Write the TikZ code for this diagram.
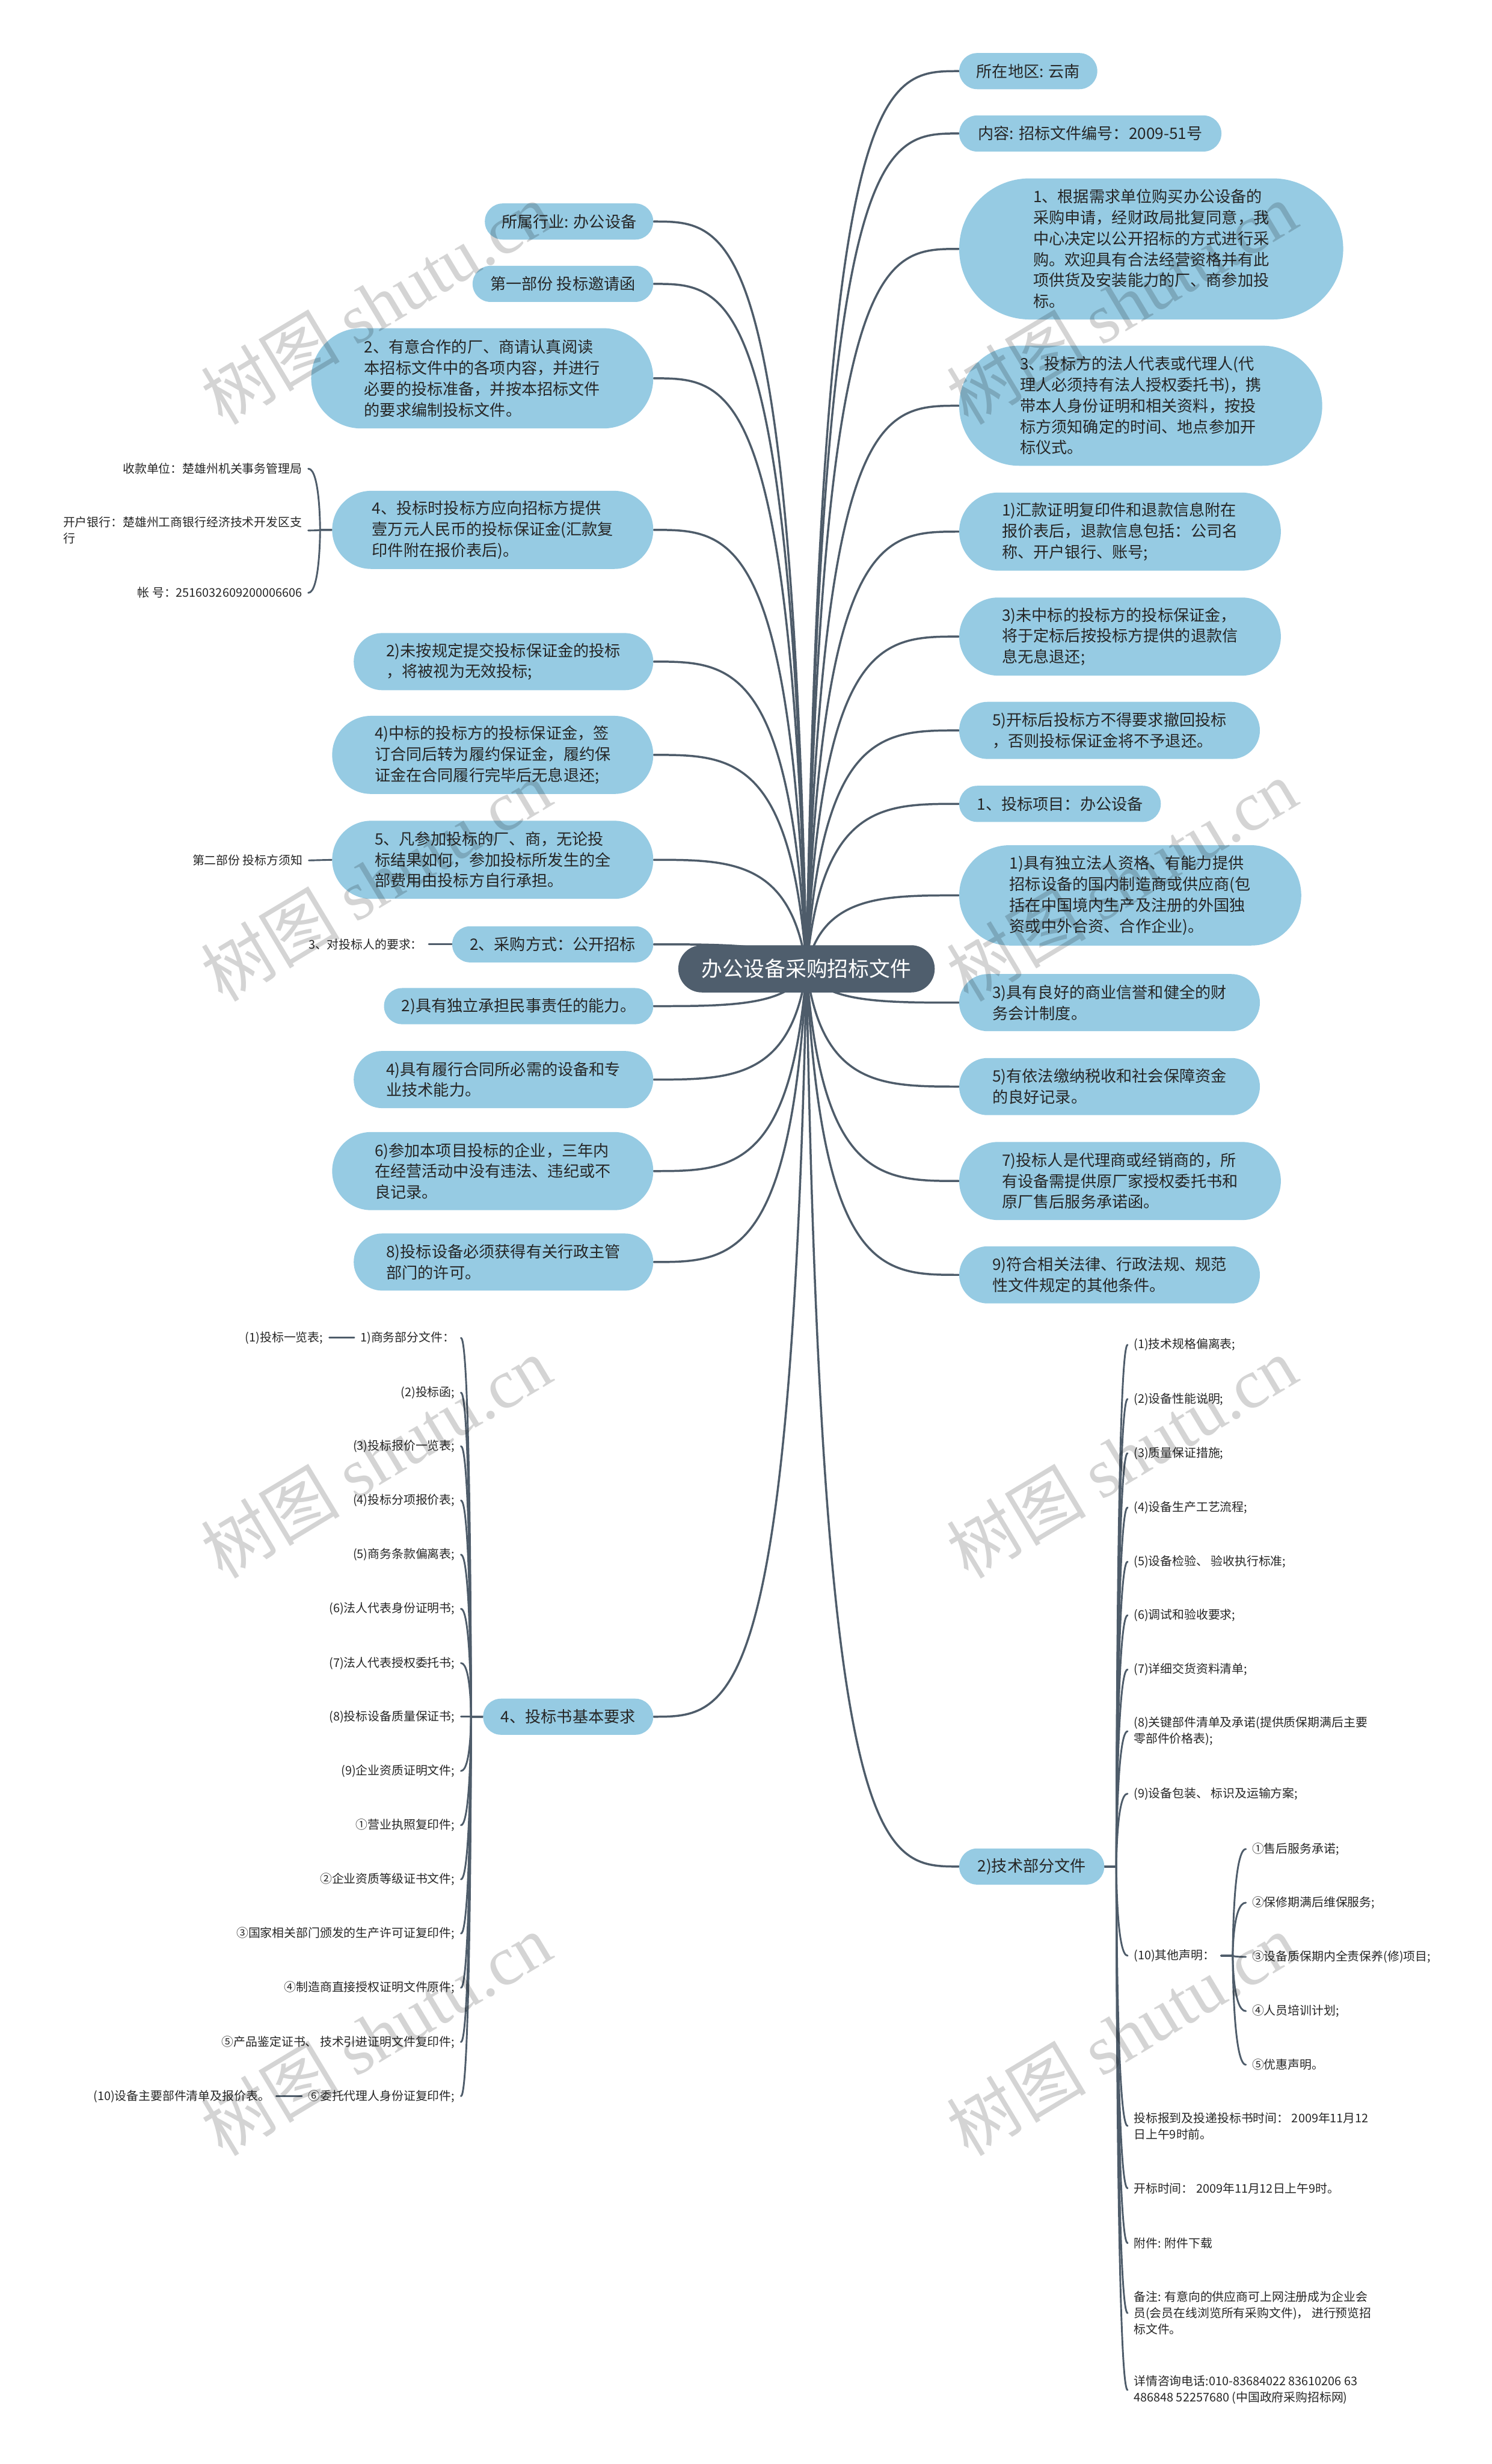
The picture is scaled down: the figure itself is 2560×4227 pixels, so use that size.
\documentclass[tikz,border=0pt]{standalone}
\usepackage{fontspec}
\setmainfont{Noto Sans CJK SC}
\newfontfamily\wmlatin{Liberation Serif}
\usetikzlibrary{calc}
\pgfdeclarelayer{paper}
\pgfdeclarelayer{bg}
\pgfsetlayers{paper,bg,main}
\definecolor{boxblue}{RGB}{150,203,227}
\definecolor{hubc}{RGB}{79,94,109}
\definecolor{linec}{RGB}{78,92,106}
\definecolor{txt}{RGB}{38,38,38}
\newcommand\mconn[2]{\draw[mainline] let \p1=(C.center), \p2=(#1.#2) in (\p1) .. controls ({\x1+0.1*(\x2-\x1)},{\y2}) and ({\x1+0.5*(\x2-\x1)},{\y2}) .. (\p2);}
\newcommand\brL[2]{\draw[subline] let \p1=(#1.east), \p2=(#2.west) in (\p1) .. controls ({\x2-2mm},{\y1}) and ({\x2-2mm},{\y2}) .. ({\x2-2mm},{\y2}) -- (\p2);}
\newcommand\brR[2]{\draw[subline] let \p1=(#1.west), \p2=(#2.east) in (\p1) .. controls ({\x2+2mm},{\y1}) and ({\x2+2mm},{\y2}) .. ({\x2+2mm},{\y2}) -- (\p2);}
\begin{document}
\begin{tikzpicture}[x=0.1mm,y=-0.1mm,
  bluebox/.style={fill=boxblue, text=txt, align=left, inner sep=0pt, font=\fontsize{7.68pt}{10.2pt}\selectfont},
  bA/.style={bluebox, minimum height=6.2mm, rounded corners=3.09mm},
  bB/.style={bluebox, minimum height=9.8mm, rounded corners=4.89mm},
  bC/.style={bluebox, minimum height=13.4mm, rounded corners=6.69mm},
  bD/.style={bluebox, minimum height=17.2mm, rounded corners=8.59mm},
  bE/.style={bluebox, minimum height=20.6mm, rounded corners=10.29mm},
  bF/.style={bluebox, minimum height=24.2mm, rounded corners=12.09mm},
  hubbox/.style={fill=hubc, text=white, inner sep=0pt, minimum width=44mm, minimum height=8.1mm, rounded corners=4.04mm, font=\fontsize{10.24pt}{12pt}\selectfont},
  smalltxt/.style={font=\fontsize{5.83pt}{7.97pt}\selectfont, text=txt, inner xsep=1mm, inner ysep=0.3mm, align=left},
  mainline/.style={draw=linec, line width=0.36mm, line cap=round},
  subline/.style={draw=linec, line width=0.3mm, line cap=round},
  wm/.style={rotate=31, font=\fontsize{34pt}{34pt}\selectfont, text=black, opacity=0.17}]
\useasboundingbox (0,0) rectangle (2560,4227);
\begin{pgfonlayer}{paper}
\fill[white] (0,0) rectangle (2560,4227);
\end{pgfonlayer}

% hub
\node[hubbox] (C) at (1384,1662) {办公设备采购招标文件};

% left main nodes
\node[bA,minimum width=28.9mm] (L1) at (976.5,380) {所属行业: 办公设备};
\node[bA,minimum width=31.0mm] (L2) at (966,487) {第一部份 投标邀请函};
\node[bD,minimum width=58.7mm] (L3) at (827.5,649) {2、有意合作的厂、商请认真阅读\\本招标文件中的各项内容，并进行\\必要的投标准备，并按本招标文件\\的要求编制投标文件。};
\node[bC,minimum width=55.1mm] (L4) at (845.5,909) {4、投标时投标方应向招标方提供\\壹万元人民币的投标保证金(汇款复\\印件附在报价表后)。};
\node[bB,minimum width=51.4mm] (L5) at (864,1135) {2)未按规定提交投标保证金的投标\\，将被视为无效投标;};
\node[bC,minimum width=55.1mm] (L6) at (845.5,1295) {4)中标的投标方的投标保证金，签\\订合同后转为履约保证金，履约保\\证金在合同履行完毕后无息退还;};
\node[bC,minimum width=55.1mm] (L7) at (845.5,1475) {5、凡参加投标的厂、商，无论投\\标结果如何，参加投标所发生的全\\部费用由投标方自行承担。};
\node[bA,minimum width=34.5mm] (L8) at (948.5,1620) {2、采购方式：公开招标};
\node[bA,minimum width=46.2mm] (L9) at (890,1726) {2)具有独立承担民事责任的能力。};
\node[bB,minimum width=51.4mm] (L10) at (864,1852) {4)具有履行合同所必需的设备和专\\业技术能力。};
\node[bC,minimum width=55.1mm] (L11) at (845.5,2009) {6)参加本项目投标的企业，三年内\\在经营活动中没有违法、违纪或不\\良记录。};
\node[bB,minimum width=51.4mm] (L12) at (864,2165) {8)投标设备必须获得有关行政主管\\部门的许可。};
\node[bA,minimum width=29.2mm] (L13) at (975,2945) {4、投标书基本要求};

% right main nodes
\node[bA,minimum width=23.7mm] (R1) at (1764.5,122) {所在地区: 云南};
\node[bA,minimum width=45.0mm] (R2) at (1871,229) {内容: 招标文件编号：2009-51号};
\node[bF,minimum width=65.9mm] (R3) at (1975.5,427) {1、根据需求单位购买办公设备的\\采购申请，经财政局批复同意，我\\中心决定以公开招标的方式进行采\\购。欢迎具有合法经营资格并有此\\项供货及安装能力的厂、商参加投\\标。};
\node[bE,minimum width=62.3mm] (R4) at (1957.5,696) {3、投标方的法人代表或代理人(代\\理人必须持有法人授权委托书)，携\\带本人身份证明和相关资料，按投\\标方须知确定的时间、地点参加开\\标仪式。};
\node[bC,minimum width=55.2mm] (R5) at (1922,912) {1)汇款证明复印件和退款信息附在\\报价表后，退款信息包括：公司名\\称、开户银行、账号;};
\node[bC,minimum width=55.2mm] (R6) at (1922,1092) {3)未中标的投标方的投标保证金，\\将于定标后按投标方提供的退款信\\息无息退还;};
\node[bB,minimum width=51.6mm] (R7) at (1904,1253) {5)开标后投标方不得要求撤回投标\\，否则投标保证金将不予退还。};
\node[bA,minimum width=34.6mm] (R8) at (1819,1379) {1、投标项目：办公设备};
\node[bD,minimum width=58.7mm] (R9) at (1939.5,1536) {1)具有独立法人资格、有能力提供\\招标设备的国内制造商或供应商(包\\括在中国境内生产及注册的外国独\\资或中外合资、合作企业)。};
\node[bB,minimum width=51.6mm] (R10) at (1904,1720) {3)具有良好的商业信誉和健全的财\\务会计制度。};
\node[bB,minimum width=51.6mm] (R11) at (1904,1864) {5)有依法缴纳税收和社会保障资金\\的良好记录。};
\node[bC,minimum width=55.2mm] (R12) at (1922,2026) {7)投标人是代理商或经销商的，所\\有设备需提供原厂家授权委托书和\\原厂售后服务承诺函。};
\node[bB,minimum width=51.6mm] (R13) at (1904,2187) {9)符合相关法律、行政法规、规范\\性文件规定的其他条件。};
\node[bA,minimum width=24.9mm] (R14) at (1770.5,3202) {2)技术部分文件};

% small left texts
\node[smalltxt,anchor=east] (s1) at (529,804) {收款单位：楚雄州机关事务管理局};
\node[smalltxt,anchor=east] (s2) at (529,910) {开户银行：楚雄州工商银行经济技术开发区支\\行};
\node[smalltxt,anchor=east] (s3) at (529,1017) {帐 号：2516032609200006606};
\node[smalltxt,anchor=east] (s4) at (530,1476) {第二部份 投标方须知};
\node[smalltxt,anchor=east] (s5) at (736,1620) {3、对投标人的要求：};

\node[smalltxt,anchor=east] (t1) at (791,2295) {1)商务部分文件：};
\node[smalltxt,anchor=east] (t1a) at (565,2295) {(1)投标一览表;};
\node[smalltxt,anchor=east] (t2) at (791,2389) {(2)投标函;};
\node[smalltxt,anchor=east] (t3) at (791,2481) {(3)投标报价一览表;};
\node[smalltxt,anchor=east] (t4) at (791,2574) {(4)投标分项报价表;};
\node[smalltxt,anchor=east] (t5) at (791,2667) {(5)商务条款偏离表;};
\node[smalltxt,anchor=east] (t6) at (791,2760) {(6)法人代表身份证明书;};
\node[smalltxt,anchor=east] (t7) at (791,2853) {(7)法人代表授权委托书;};
\node[smalltxt,anchor=east] (t8) at (791,2945) {(8)投标设备质量保证书;};
\node[smalltxt,anchor=east] (t9) at (791,3038) {(9)企业资质证明文件;};
\node[smalltxt,anchor=east] (t10) at (791,3131) {①营业执照复印件;};
\node[smalltxt,anchor=east] (t11) at (791,3224) {②企业资质等级证书文件;};
\node[smalltxt,anchor=east] (t12) at (791,3317) {③国家相关部门颁发的生产许可证复印件;};
\node[smalltxt,anchor=east] (t13) at (791,3410) {④制造商直接授权证明文件原件;};
\node[smalltxt,anchor=east] (t14) at (791,3503) {⑤产品鉴定证书、 技术引进证明文件复印件;};
\node[smalltxt,anchor=east] (t15) at (791,3596) {⑥委托代理人身份证复印件;};
\node[smalltxt,anchor=east] (t15a) at (474,3596) {(10)设备主要部件清单及报价表。};

% small right texts
\node[smalltxt,anchor=west] (u1) at (1935,2307) {(1)技术规格偏离表;};
\node[smalltxt,anchor=west] (u2) at (1935,2400) {(2)设备性能说明;};
\node[smalltxt,anchor=west] (u3) at (1935,2493) {(3)质量保证措施;};
\node[smalltxt,anchor=west] (u4) at (1935,2586) {(4)设备生产工艺流程;};
\node[smalltxt,anchor=west] (u5) at (1935,2679) {(5)设备检验、 验收执行标准;};
\node[smalltxt,anchor=west] (u6) at (1935,2771) {(6)调试和验收要求;};
\node[smalltxt,anchor=west] (u7) at (1935,2864) {(7)详细交货资料清单;};
\node[smalltxt,anchor=west] (u8) at (1935,2970) {(8)关键部件清单及承诺(提供质保期满后主要\\零部件价格表);};
\node[smalltxt,anchor=west] (u9) at (1935,3077) {(9)设备包装、 标识及运输方案;};
\node[smalltxt,anchor=west] (u10) at (1935,3355) {(10)其他声明：};
\node[smalltxt,anchor=west] (u11) at (1935,3647) {投标报到及投递投标书时间： 2009年11月12\\日上午9时前。};
\node[smalltxt,anchor=west] (u12) at (1935,3754) {开标时间： 2009年11月12日上午9时。};
\node[smalltxt,anchor=west] (u13) at (1935,3848) {附件: 附件下载};
\node[smalltxt,anchor=west] (u14) at (1935,3968) {备注: 有意向的供应商可上网注册成为企业会\\员(会员在线浏览所有采购文件)， 进行预览招\\标文件。};
\node[smalltxt,anchor=west] (u15) at (1935,4100) {详情咨询电话:010-83684022 83610206 63\\486848 52257680 (中国政府采购招标网)};

\node[smalltxt,anchor=west] (v1) at (2138,3172) {①售后服务承诺;};
\node[smalltxt,anchor=west] (v2) at (2138,3264) {②保修期满后维保服务;};
\node[smalltxt,anchor=west] (v3) at (2138,3357) {③设备质保期内全责保养(修)项目;};
\node[smalltxt,anchor=west] (v4) at (2138,3450) {④人员培训计划;};
\node[smalltxt,anchor=west] (v5) at (2138,3542) {⑤优惠声明。};

\begin{pgfonlayer}{bg}
\foreach \nd in {L1,L2,L3,L4,L5,L6,L7,L8,L9,L10,L11,L12,L13} {\mconn{\nd}{east}}
\foreach \nd in {R1,R2,R3,R4,R5,R6,R7,R8,R9,R10,R11,R12,R13,R14} {\mconn{\nd}{west}}
\foreach \nd in {s1,s2,s3} {\brL{\nd}{L4}}
\draw[subline] (s4.east) -- (L7.west);
\draw[subline] (s5.east) -- (L8.west);
\foreach \nd in {t1,t2,t3,t4,t5,t6,t7,t8,t9,t10,t11,t12,t13,t14,t15} {\brL{\nd}{L13}}
\draw[subline] (t1a.east) -- (t1.west);
\draw[subline] (t15a.east) -- (t15.west);
\foreach \nd in {u1,u2,u3,u4,u5,u6,u7,u8,u9,u10,u11,u12,u13,u14,u15} {\brR{\nd}{R14}}
\foreach \nd in {v1,v2,v3,v4,v5} {\brR{\nd}{u10}}
\end{pgfonlayer}

% watermarks
\foreach \wx in {645,1925} {
  \foreach \wy in {520,1510,2500,3490} {
    \node[wm] at (\wx,\wy) {树图 {\wmlatin shutu.cn}};
  }
}
\end{tikzpicture}
\end{document}
